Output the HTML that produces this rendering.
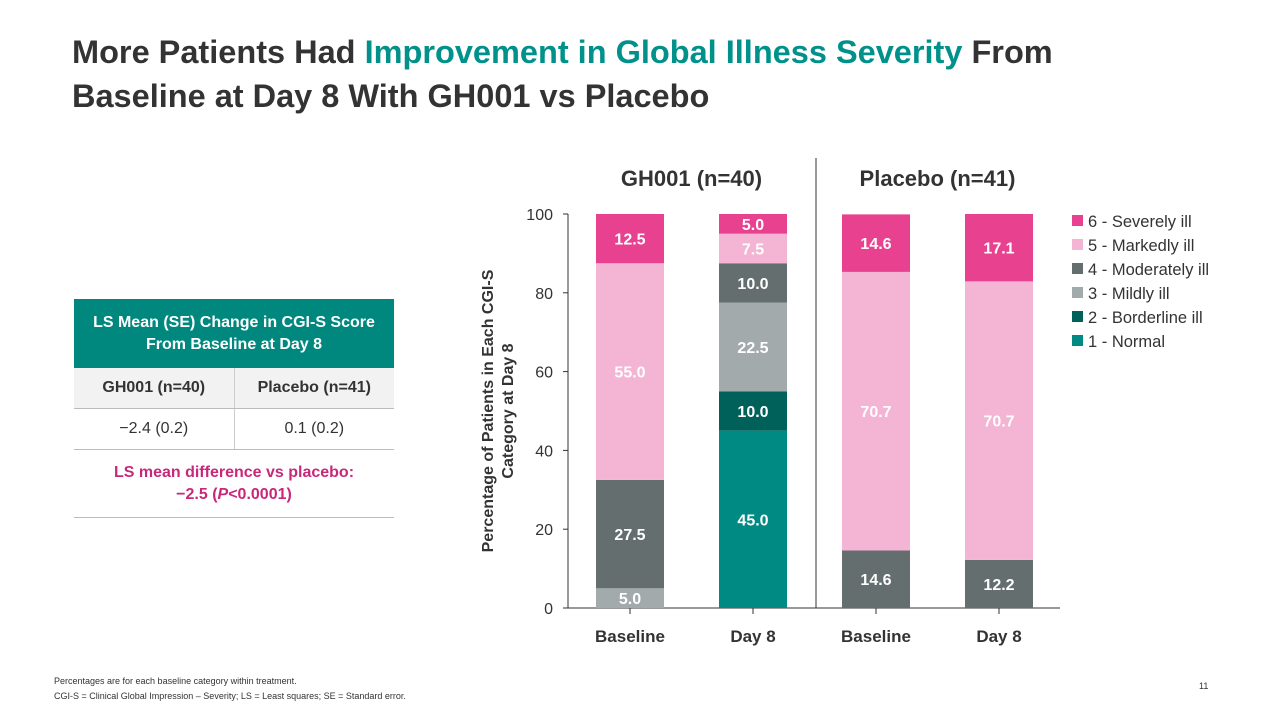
<!DOCTYPE html>
<html><head><meta charset="utf-8"><style>
body{margin:0;width:1280px;height:720px;background:#fff;font-family:"Liberation Sans",sans-serif;position:relative;overflow:hidden}
.abs{position:absolute}
h1{position:absolute;left:72px;top:30px;margin:0;font-size:32.5px;line-height:44px;font-weight:bold;color:#333;width:1150px;white-space:nowrap}
h1 span{color:#00918B}
</style></head><body>
<h1>More Patients Had <span>Improvement in Global Illness Severity</span> From<br>Baseline at Day 8 With GH001 vs Placebo</h1>

<div class="abs" style="left:74px;top:299px;width:320px">
<div style="background:#00887F;color:#fff;font-weight:bold;font-size:16px;text-align:center;height:69px;box-sizing:border-box;padding-top:13px;line-height:22px">LS Mean (SE) Change in CGI-S Score<br>From Baseline at Day 8</div>
<div style="display:flex;background:#F2F2F2;height:40px;border-bottom:1px solid #bbb;font-weight:bold;font-size:16px;color:#333;line-height:40px">
<div style="width:160px;text-align:center;border-right:1px solid #ccc">GH001 (n=40)</div>
<div style="width:160px;text-align:center">Placebo (n=41)</div></div>
<div style="display:flex;height:40px;border-bottom:1px solid #bbb;font-size:16px;color:#333;line-height:40px">
<div style="width:160px;text-align:center;border-right:1px solid #ccc">−2.4 (0.2)</div>
<div style="width:160px;text-align:center">0.1 (0.2)</div></div>
<div style="height:68px;border-bottom:1px solid #bbb;color:#C8287A;font-weight:bold;font-size:16px;text-align:center;line-height:22px;padding-top:12px;box-sizing:border-box">LS mean difference vs placebo:<br>−2.5 (<i>P</i>&lt;0.0001)</div>
</div>

<svg class="abs" style="left:0;top:0" width="1280" height="720" id="chart"></svg>

<div class="abs" style="left:54px;top:674px;font-size:9px;color:#333;line-height:15px">Percentages are for each baseline category within treatment.<br>CGI-S = Clinical Global Impression – Severity; LS = Least squares; SE = Standard error.</div>
<div class="abs" style="left:1199px;top:681px;font-size:9px;color:#333">11</div>

<script>
const categories=["Baseline","Day 8","Baseline","Day 8"];
const seriesNames=["1 - Normal","2 - Borderline ill","3 - Mildly ill","4 - Moderately ill","5 - Markedly ill","6 - Severely ill"];
const normal=[0,45,0,0];
const borderline=[0,10,0,0];
const mild=[5,22.5,0,0];
const moderate=[27.5,10,14.6,12.2];
const marked=[55,7.5,70.7,70.7];
const severe=[12.5,5,14.6,17.1];
const yTicks=[0,20,40,60,80,100];
const groups=["GH001 (n=40)","Placebo (n=41)"];
const series=[normal,borderline,mild,moderate,marked,severe];
const colors=["#008A84","#00605A","#A2AAAC","#646E6E","#F4B4D4","#E8418F"];
const svg=document.getElementById('chart');
const NS="http://www.w3.org/2000/svg";
function el(t,a,txt){const e=document.createElementNS(NS,t);for(const k in a)e.setAttribute(k,a[k]);if(txt!=null)e.textContent=txt;svg.appendChild(e);return e;}
const y0=608,y1=214;
const y=v=>y0-(v/100)*(y0-y1);
const x=i=>630+i*123;
const bw=68;
let a=el('line',{x1:568,y1:y0,x2:1060,y2:y0,stroke:'#333','stroke-width':1});


a=el('line',{x1:568,y1:y1,x2:568,y2:y0,stroke:'#333','stroke-width':1});


yTicks.forEach(t=>{
 el('line',{x1:563,y1:y(t),x2:568,y2:y(t),stroke:'#333'});
 const tx=el('text',{x:553,y:y(t)+6,'text-anchor':'end','font-size':16,fill:'#333'},t);
 
 
});
categories.forEach((c,i)=>{
 el('line',{x1:x(i),y1:y0,x2:x(i),y2:y0+6,stroke:'#333'});
 const tx=el('text',{x:x(i),y:642,'text-anchor':'middle','font-size':17,'font-weight':'bold',fill:'#333'},c);
 
 
});
const d=el('line',{x1:816,y1:158,x2:816,y2:y0,stroke:'#333'});


groups.forEach((g,i)=>{
 const tx=el('text',{x:(x(2*i)+x(2*i+1))/2,y:186,'text-anchor':'middle','font-size':22,'font-weight':'bold',fill:'#333'},g);
 
 
});
const yl=el('text',{transform:'translate(493,411) rotate(-90)','text-anchor':'middle','font-size':16,'font-weight':'bold',fill:'#333'});


const t1=document.createElementNS(NS,'tspan');t1.setAttribute('x',0);t1.setAttribute('dy',0);t1.textContent='Percentage of Patients in Each CGI-S';yl.appendChild(t1);
const t2=document.createElementNS(NS,'tspan');t2.setAttribute('x',0);t2.setAttribute('dy',20);t2.textContent='Category at Day 8';yl.appendChild(t2);
categories.forEach((c,i)=>{
 let cum=0;
 series.forEach((s,k)=>{
  const v=s[i];if(!v)return;
  const r=el('rect',{x:x(i)-bw/2,y:y(cum+v),width:bw,height:y(cum)-y(cum+v),fill:colors[k]});
  
  
  const lt=el('text',{x:x(i),y:(y(cum)+y(cum+v))/2+6,'text-anchor':'middle','font-size':16,'font-weight':'bold',fill:'#fff'},v.toFixed(1));
  
  
  cum+=v;
 });
});
for(let k=5;k>=0;k--){
 const row=5-k, ly=221+row*24;
 const sq=el('rect',{x:1072,y:ly-6,width:11,height:11,fill:colors[k]});
 
 
 const lt=el('text',{x:1088,y:ly+6,'font-size':16.5,fill:'#333'},seriesNames[k]);
 
 
}
</script>
</body></html>
